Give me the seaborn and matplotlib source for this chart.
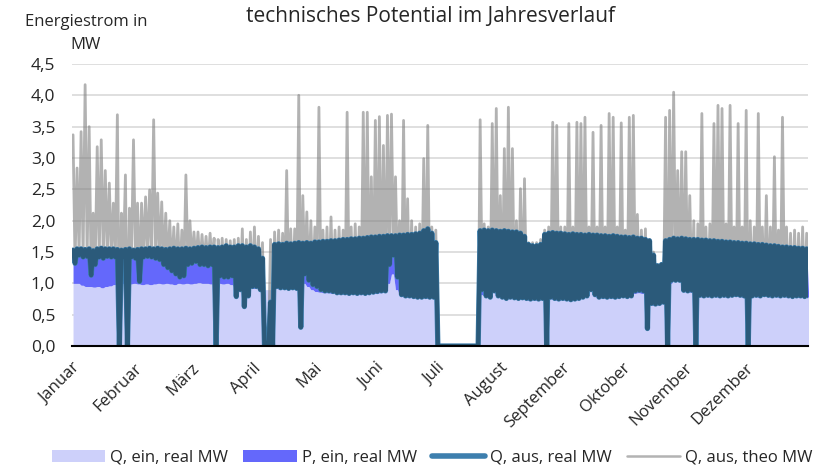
import numpy as np
import matplotlib
matplotlib.use("Agg")
import matplotlib.pyplot as plt
from matplotlib.patches import Patch
from matplotlib.lines import Line2D
import seaborn as sns

# ============================================
# DATEN (je 2-Tages-Block, 183 Bloecke)
# ============================================
MONATE = ["Januar", "Februar", "März", "April", "Mai", "Juni", "Juli",
          "August", "September", "Oktober", "November", "Dezember"]
MONATSBEGINN = [0, 31, 59, 90, 120, 151, 181, 212, 243, 273, 304, 334, 365]

# Q, aus, theo MW - Spitzenwert je Block
Q_AUS_THEO_MAX = [
    3.37, 2.84, 3.42, 4.17, 3.50, 2.12, 3.18, 3.29, 2.80, 2.60,
    2.28, 3.69, 2.12, 2.73, 2.20, 3.29, 2.28, 2.28, 2.38, 2.49,
    3.61, 2.44, 2.30, 2.12, 2.00, 1.90, 1.95, 1.85, 2.73, 2.00,
    1.82, 1.82, 1.78, 1.75, 1.80, 1.72, 1.70, 1.72, 1.70, 1.68,
    1.70, 1.72, 1.87, 1.70, 1.82, 1.90, 1.75, 1.65, 0.10, 1.70,
    1.82, 1.85, 1.80, 2.80, 1.87, 1.87, 4.00, 2.40, 2.14, 2.00,
    1.90, 3.81, 1.85, 1.90, 2.06, 1.85, 1.90, 1.85, 3.73, 1.90,
    1.95, 1.90, 3.73, 3.73, 2.70, 3.60, 3.66, 3.20, 3.68, 3.70,
    2.70, 2.00, 3.60, 2.35, 2.00, 1.90, 1.95, 2.99, 3.52, 1.90,
    1.85, 0.00, 0.00, 0.00, 0.00, 0.00, 0.00, 0.00, 0.00, 0.00,
    0.00, 3.61, 1.95, 1.90, 3.55, 3.79, 2.40, 3.15, 3.81, 3.15,
    2.00, 2.51, 2.67, 1.65, 1.65, 1.65, 1.70, 1.85, 1.90, 3.57,
    3.52, 1.90, 1.90, 3.55, 1.90, 3.57, 3.55, 3.65, 1.90, 3.41,
    1.90, 3.52, 1.90, 3.71, 3.65, 1.90, 3.56, 1.85, 3.65, 3.68,
    2.10, 1.85, 1.87, 1.70, 1.50, 1.30, 1.30, 3.65, 3.76, 4.05,
    2.80, 3.10, 3.10, 2.40, 2.00, 1.95, 3.71, 1.90, 1.95, 3.55,
    3.84, 3.79, 1.95, 3.84, 1.90, 3.55, 1.90, 3.76, 2.00, 1.90,
    3.71, 1.90, 2.40, 1.90, 3.02, 1.85, 3.65, 1.90, 1.80, 1.85,
    1.80, 1.90, 1.80,
]

# Q, aus, real MW - oberer Wert je Block
Q_AUS_REAL_MAX = [
    1.53, 1.55, 1.55, 1.54, 1.55, 1.52, 1.55, 1.56, 1.55, 1.55,
    1.55, 1.54, 1.53, 1.54, 1.55, 1.53, 1.54, 1.55, 1.55, 1.56,
    1.55, 1.56, 1.55, 1.54, 1.55, 1.56, 1.55, 1.55, 1.56, 1.55,
    1.56, 1.57, 1.58, 1.57, 1.58, 1.58, 1.57, 1.58, 1.60, 1.58,
    1.58, 1.60, 1.60, 1.58, 1.60, 1.58, 1.55, 1.40, 0.05, 0.70,
    1.62, 1.63, 1.62, 1.64, 1.63, 1.64, 1.65, 1.64, 1.65, 1.64,
    1.66, 1.66, 1.67, 1.67, 1.68, 1.68, 1.69, 1.70, 1.70, 1.71,
    1.71, 1.72, 1.72, 1.73, 1.74, 1.74, 1.75, 1.75, 1.76, 1.76,
    1.76, 1.77, 1.77, 1.78, 1.78, 1.79, 1.80, 1.84, 1.87, 1.80,
    1.65, 0.00, 0.00, 0.00, 0.00, 0.00, 0.00, 0.00, 0.00, 0.00,
    0.00, 1.84, 1.85, 1.84, 1.85, 1.84, 1.83, 1.84, 1.83, 1.82,
    1.82, 1.80, 1.75, 1.62, 1.60, 1.60, 1.62, 1.78, 1.80, 1.81,
    1.80, 1.80, 1.79, 1.78, 1.79, 1.78, 1.78, 1.77, 1.78, 1.77,
    1.77, 1.76, 1.76, 1.75, 1.76, 1.75, 1.74, 1.74, 1.73, 1.74,
    1.72, 1.72, 1.70, 1.68, 1.45, 1.28, 1.30, 1.68, 1.70, 1.72,
    1.71, 1.72, 1.71, 1.70, 1.70, 1.70, 1.69, 1.69, 1.68, 1.68,
    1.67, 1.67, 1.66, 1.66, 1.65, 1.65, 1.64, 1.64, 1.63, 1.63,
    1.62, 1.62, 1.61, 1.60, 1.60, 1.59, 1.58, 1.58, 1.57, 1.57,
    1.56, 1.56, 1.55,
]

# Q, aus, real MW - unterer Wert je Block
Q_AUS_REAL_MIN = [
    1.32, 1.45, 1.42, 1.43, 1.13, 1.30, 1.42, 1.40, 1.43, 1.42,
    1.42, 0.00, 1.42, 0.00, 1.42, 1.40, 1.03, 1.42, 1.43, 1.42,
    1.40, 1.38, 1.30, 1.25, 1.20, 1.15, 1.10, 1.12, 1.30, 1.32,
    1.35, 1.30, 1.30, 1.28, 1.30, 0.00, 1.12, 1.10, 1.10, 1.12,
    0.79, 0.90, 0.63, 0.80, 0.95, 0.95, 0.90, 0.00, 0.00, 0.00,
    0.95, 0.93, 0.93, 0.92, 0.93, 0.92, 0.30, 1.15, 1.05, 0.98,
    0.95, 0.90, 0.88, 0.88, 0.87, 0.85, 0.85, 0.85, 0.84, 0.85,
    0.84, 0.85, 0.84, 0.85, 0.86, 0.87, 0.88, 0.88, 1.30, 1.45,
    1.10, 0.82, 0.80, 0.80, 0.79, 0.78, 0.78, 0.79, 0.78, 0.78,
    0.00, 0.00, 0.00, 0.00, 0.00, 0.00, 0.00, 0.00, 0.00, 0.00,
    0.00, 0.90, 0.80, 0.78, 0.88, 0.80, 0.78, 0.76, 0.78, 0.77,
    0.76, 0.77, 0.76, 0.75, 0.76, 0.75, 0.76, 0.00, 0.78, 0.76,
    0.75, 0.76, 0.75, 0.74, 0.75, 0.76, 0.78, 0.80, 0.90, 0.82,
    0.78, 0.79, 0.78, 0.79, 0.78, 0.79, 0.80, 0.79, 0.80, 0.88,
    0.89, 0.88, 0.28, 0.68, 0.67, 0.68, 0.70, 0.00, 1.05, 1.05,
    1.05, 0.89, 0.88, 0.89, 0.00, 0.81, 0.80, 0.81, 0.80, 0.81,
    0.80, 0.81, 0.80, 0.81, 0.82, 0.81, 0.80, 0.00, 0.80, 0.81,
    0.80, 0.82, 0.81, 0.80, 0.81, 0.80, 0.81, 0.80, 0.79, 0.80,
    0.80, 0.79, 0.80,
]

# Q, ein, real MW
Q_EIN_REAL = [
    1.00, 1.00, 0.97, 0.95, 0.95, 0.94, 0.95, 0.93, 0.95, 0.96,
    0.98, 0.99, 1.00, 1.00, 0.99, 1.00, 0.99, 0.98, 0.99, 0.98,
    0.99, 1.00, 0.99, 1.00, 0.99, 0.98, 1.00, 0.99, 1.00, 0.99,
    1.00, 1.01, 1.00, 1.00, 0.99, 1.00, 1.00, 0.99, 1.00, 0.98,
    0.94, 0.92, 0.90, 0.92, 0.92, 0.92, 0.90, 0.90, 0.90, 0.90,
    0.92, 0.91, 0.92, 0.92, 0.91, 0.92, 0.92, 1.00, 0.95, 0.90,
    0.87, 0.86, 0.85, 0.85, 0.84, 0.84, 0.83, 0.83, 0.82, 0.83,
    0.82, 0.82, 0.83, 0.83, 0.84, 0.84, 0.85, 0.86, 1.00, 1.15,
    0.90, 0.80, 0.78, 0.78, 0.77, 0.77, 0.76, 0.77, 0.76, 0.76,
    0.75, 0.00, 0.00, 0.00, 0.00, 0.00, 0.00, 0.00, 0.00, 0.00,
    0.00, 0.82, 0.80, 0.78, 0.86, 0.80, 0.78, 0.76, 0.78, 0.77,
    0.75, 0.76, 0.74, 0.73, 0.74, 0.73, 0.74, 0.74, 0.76, 0.74,
    0.73, 0.74, 0.73, 0.72, 0.73, 0.74, 0.76, 0.78, 0.88, 0.80,
    0.76, 0.77, 0.76, 0.77, 0.76, 0.77, 0.78, 0.77, 0.78, 0.84,
    0.85, 0.84, 0.80, 0.66, 0.65, 0.66, 0.68, 0.85, 1.00, 1.10,
    1.20, 0.88, 0.86, 0.86, 0.80, 0.79, 0.78, 0.79, 0.78, 0.79,
    0.78, 0.79, 0.78, 0.79, 0.80, 0.79, 0.78, 0.79, 0.78, 0.79,
    0.78, 0.80, 0.79, 0.78, 0.79, 0.78, 0.79, 0.78, 0.77, 0.78,
    0.78, 0.77, 0.78,
]

FARBE_Q_EIN = "#cdd0fa"
FARBE_P_EIN = "#6468fb"
FARBE_Q_AUS_RAND = "#3d7fae"
FARBE_Q_AUS = "#2b5a7a"
FARBE_THEO = "#b3b3b3"

# ============================================
# AUFBEREITUNG
# ============================================
blockstart = np.arange(len(Q_EIN_REAL)) * 2
x = np.column_stack([blockstart + 0.5, blockstart + 1.5]).ravel()
q_aus = np.column_stack([Q_AUS_REAL_MAX, Q_AUS_REAL_MIN]).ravel()
q_theo = np.column_stack([Q_AUS_THEO_MAX, Q_AUS_REAL_MIN]).ravel()
q_ein = np.repeat(Q_EIN_REAL, 2)
p_oben = np.maximum(q_aus, q_ein)  # P, ein gestapelt auf Q, ein

# ============================================
# GRAFIK
# ============================================
sns.set_style("white")
plt.rcParams["font.family"] = ["Open Sans", "DejaVu Sans"]
TEXTFARBE = "#262626"

fig = plt.figure(figsize=(8.25, 4.67), dpi=100)
ax = fig.add_axes([0.0873, 0.259, 0.8917, 0.604])

ax.fill_between(x, 0, q_ein, color=FARBE_Q_EIN, lw=0, zorder=1)
ax.fill_between(x, q_ein, p_oben, color=FARBE_P_EIN, lw=0, zorder=2)
sns.lineplot(x=x, y=q_theo, ax=ax, color="#7f7f7f", alpha=0.6, lw=2.0,
             sort=False, legend=False, zorder=3)
sns.lineplot(x=x, y=q_aus, ax=ax, color=FARBE_Q_AUS_RAND, lw=3.8,
             sort=False, legend=False, zorder=4)
sns.lineplot(x=x, y=q_aus, ax=ax, color=FARBE_Q_AUS, lw=3.0,
             sort=False, legend=False, zorder=5)

ax.set_xlim(0, 365)
ax.set_ylim(0, 4.5)
ax.set_yticks(np.arange(0, 4.51, 0.5))
ax.set_yticklabels([f"{v:.1f}".replace(".", ",") for v in np.arange(0, 4.51, 0.5)])
ax.set_xticks(MONATSBEGINN)
ax.set_xticklabels(MONATE + [""], rotation=45, ha="right", va="top",
                   rotation_mode="anchor")
ax.tick_params(axis="x", length=5, width=1.5, color="black", pad=5,
               labelsize=12, labelcolor=TEXTFARBE)
ax.tick_params(axis="y", length=0, pad=12, labelsize=12.5, labelcolor=TEXTFARBE)
ax.set_xlabel("")
ax.set_ylabel("")

ax.yaxis.grid(True, color="#d9d9d9", lw=1.2)
ax.set_axisbelow(True)
for seite in ["top", "right", "left"]:
    ax.spines[seite].set_visible(False)
ax.spines["bottom"].set_color("black")
ax.spines["bottom"].set_linewidth(1.5)
ax.spines["bottom"].set_zorder(6)

fig.text(0.522, 0.965, "technisches Potential im Jahresverlauf",
         ha="center", va="center", fontsize=15, color=TEXTFARBE)
fig.text(0.104, 0.952, "Energiestrom in", ha="center", va="center",
         fontsize=12, color=TEXTFARBE)
fig.text(0.104, 0.903, "MW", ha="center", va="center",
         fontsize=12, color=TEXTFARBE)

handles = [
    Patch(facecolor=FARBE_Q_EIN, edgecolor="none"),
    Patch(facecolor=FARBE_P_EIN, edgecolor="none"),
    Line2D([], [], color=FARBE_Q_AUS_RAND, lw=4, solid_capstyle="round"),
    Line2D([], [], color=FARBE_THEO, lw=1.8),
]
labels = ["Q, ein, real MW", "P, ein, real MW", "Q, aus, real MW", "Q, aus, theo MW"]
fig.legend(handles, labels, loc="center", bbox_to_anchor=(0.524, 0.02),
           ncol=4, frameon=False, fontsize=12, handlelength=3.2,
           handleheight=0.7, handletextpad=0.3, columnspacing=0.9,
           labelcolor=TEXTFARBE)

fig.savefig("out.png", dpi=100)
